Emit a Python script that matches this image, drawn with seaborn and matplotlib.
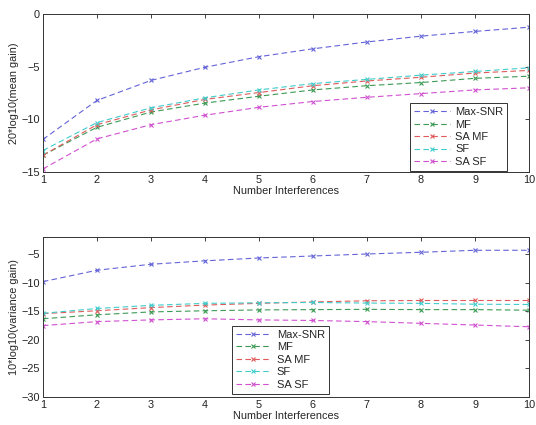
import numpy as np
import pandas as pd
import matplotlib
matplotlib.use("Agg")
import matplotlib.pyplot as plt
import seaborn as sns

sns.set_style("white")
plt.rcParams['font.family'] = ['Liberation Sans', 'DejaVu Sans']

n_interf = [1, 2, 3, 4, 5, 6, 7, 8, 9, 10]
series = ["Max-SNR", "MF", "SA MF", "SF", "SA SF"]
colors = ["#6464d8", "#3c9a55", "#e05a5a", "#40cccc", "#d050d0"]

mean_maxsnr = [-11.9, -8.2, -6.3, -5.05, -4.05, -3.3, -2.65, -2.1, -1.65, -1.25]
mean_mf = [-13.4, -10.75, -9.3, -8.45, -7.8, -7.2, -6.8, -6.5, -6.1, -5.9]
mean_samf = [-13.4, -10.5, -9.1, -8.1, -7.45, -6.8, -6.35, -6.0, -5.6, -5.35]
mean_sf = [-12.95, -10.3, -8.9, -7.95, -7.2, -6.6, -6.2, -5.8, -5.45, -5.1]
mean_sasf = [-14.7, -11.85, -10.5, -9.6, -8.85, -8.3, -7.9, -7.55, -7.2, -7.0]

var_maxsnr = [-9.8, -7.8, -6.75, -6.15, -5.65, -5.3, -4.95, -4.65, -4.3, -4.3]
var_mf = [-16.3, -15.6, -15.1, -14.9, -14.75, -14.7, -14.65, -14.7, -14.7, -14.8]
var_samf = [-15.4, -14.9, -14.35, -13.9, -13.6, -13.35, -13.15, -13.1, -13.1, -13.1]
var_sf = [-15.35, -14.5, -13.95, -13.6, -13.5, -13.45, -13.55, -13.6, -13.75, -13.8]
var_sasf = [-17.5, -16.8, -16.5, -16.3, -16.5, -16.6, -16.8, -17.1, -17.4, -17.7]

mean_data = [mean_maxsnr, mean_mf, mean_samf, mean_sf, mean_sasf]
var_data = [var_maxsnr, var_mf, var_samf, var_sf, var_sasf]

def to_long(data):
    rows = []
    for name, vals in zip(series, data):
        for x, v in zip(n_interf, vals):
            rows.append({"x": x, "y": v, "series": name})
    return pd.DataFrame(rows)

fig = plt.figure(figsize=(5.36, 4.25), dpi=100)
ax1 = fig.add_axes([0.080, 0.595, 0.907, 0.372])
ax2 = fig.add_axes([0.080, 0.066, 0.907, 0.376])

FS = 7.8

for ax, data, ylab, ylim, yticks, anchor in [
    (ax1, mean_data, "20*log10(mean gain)", (-15, 0), [-15, -10, -5, 0], (0.755, 0.585)),
    (ax2, var_data, "10*log10(variance gain)", (-30, -2), [-30, -25, -20, -15, -10, -5], (0.422, 0.061)),
]:
    df = to_long(data)
    sns.lineplot(data=df, x="x", y="y", hue="series", hue_order=series,
                 style="series", style_order=series,
                 markers=["x"] * 5, dashes=[(5, 3)] * 5,
                 palette=colors, ax=ax,
                 markersize=3.2, markeredgewidth=0.8, linewidth=0.8,
                 legend=True)
    for line in ax.get_lines():
        line.set_markeredgecolor(line.get_color())
    ax.set_xlim(1, 10)
    ax.set_ylim(*ylim)
    ax.set_xticks(n_interf)
    ax.set_yticks(yticks)
    ax.set_xlabel("Number Interferences", fontsize=FS, labelpad=1)
    ax.set_ylabel(ylab, fontsize=FS, labelpad=2)
    ax.tick_params(direction="in", length=3, width=0.6, top=True, right=True,
                   labelsize=FS, pad=2, colors="#222222")
    for s in ax.spines.values():
        s.set_linewidth(0.7)
        s.set_color("#333333")
    handles, labels = ax.get_legend_handles_labels()
    for h, c in zip(handles, colors):
        h.set_color(c)
        h.set_markeredgecolor(c)
        h.set_marker("x")
        h.set_markersize(3.2)
        h.set_linewidth(0.8)
        h.set_dashes((5, 3))
    leg = ax.legend(handles, labels, loc="lower left", bbox_to_anchor=anchor,
                    bbox_transform=fig.transFigure, fontsize=FS + 0.2,
                    frameon=True, fancybox=False, edgecolor="#333333",
                    handlelength=3.2, handletextpad=0.5, labelspacing=0.22,
                    borderpad=0.35, framealpha=1)
    leg.get_frame().set_linewidth(0.7)
    leg.set_zorder(5)

fig.savefig("out.png", dpi=100)
